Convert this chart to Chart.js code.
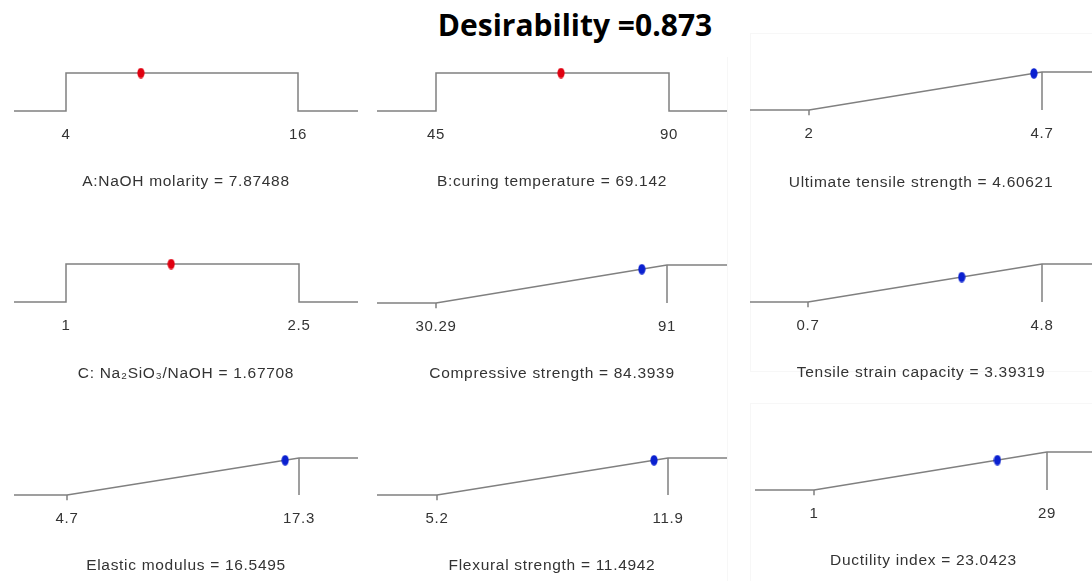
<!DOCTYPE html>
<html>
<head>
<meta charset="utf-8">
<script src="https://cdn.jsdelivr.net/npm/chart.js@4.4.1/dist/chart.umd.min.js"></script>
<style>
  body { margin: 0; background: #fff; width: 1092px; height: 581px; overflow: hidden; position: relative; }
  #title { position: absolute; left: 0; width: 1150px; top: 10px; text-align: center;
           font: 700 30px/30px "Open Sans", sans-serif; color: #000; }
  .panel { position: absolute; }
  .frame { position: absolute; border: 1px solid #f7f7f7; }
</style>
</head>
<body>
<div class="frame" style="left:376px;top:57px;width:351px;height:530px;border-left:none;border-top:none;"></div>
<div class="frame" style="left:750px;top:33px;width:360px;height:337px;border-right:none;"></div>
<div class="frame" style="left:750px;top:403px;width:360px;height:200px;border-right:none;"></div>
<div id="title"></div>
<div id="panels"></div>
<script>
// Desirability ramps (Design-Expert style optimisation plot)
const desirability = 0.873;
const panelNames = [
  "A:NaOH molarity", "B:curing temperature", "Ultimate tensile strength",
  "C: Na\u2082SiO\u2083/NaOH", "Compressive strength", "Tensile strain capacity",
  "Elastic modulus", "Flexural strength", "Ductility index",
];
const panelKinds = ["range", "range", "max", "range", "max", "max", "max", "max", "max"];
const lowLimits = [4, 45, 2, 1, 30.29, 0.7, 4.7, 5.2, 1];
const highLimits = [16, 90, 4.7, 2.5, 91, 4.8, 17.3, 11.9, 29];
const currentValues = [7.87488, 69.142, 4.60621, 1.67708, 84.3939, 3.39319, 16.5495, 11.4942, 23.0423];

// layout: [left, right, lowX, highX, topY, baseY, labelY] in page pixels
const boxes = [
  [14, 358, 66, 298, 73, 111, 181],
  [377, 727, 436, 669, 73, 111, 181],
  [750, 1092, 809, 1042, 72, 110, 182],
  [14, 358, 66, 299, 264, 302, 373],
  [377, 727, 436, 667, 265, 303, 373],
  [750, 1092, 808, 1042, 264, 302, 372],
  [14, 358, 67, 299, 458, 495, 565],
  [377, 727, 437, 668, 458, 495, 565],
  [755, 1092, 814, 1047, 452, 490, 560],
];

const PAD_TOP = 10;
const LINE = "#808080";
const FONT = "'Liberation Sans', Arial, sans-serif";

document.getElementById("title").textContent = "Desirability =" + desirability.toFixed(3);

function dotImage(color) {
  const c = document.createElement("canvas");
  c.width = 8;
  c.height = 11;
  const g = c.getContext("2d");
  g.fillStyle = color;
  g.beginPath();
  g.ellipse(4, 5.5, 3.6, 5.2, 0, 0, Math.PI * 2);
  g.fill();
  return c;
}
const redDot = dotImage("#e00010");
const blueDot = dotImage("#0a20d0");

// the scanned labels look slightly stretched, widen them a bit
const spacingPlugin = {
  id: "spacing",
  beforeDraw(chart) {
    chart.ctx.letterSpacing = "0.7px";
  },
};

const host = document.getElementById("panels");

panelNames.forEach((name, i) => {
  const [left, right, lowX, highX, topY, baseY, labelY] = boxes[i];
  const lo = lowLimits[i];
  const hi = highLimits[i];
  const v = currentValues[i];
  const ppu = (highX - lowX) / (hi - lo);
  const xMin = lo - (lowX - left) / ppu;
  const xMax = hi + (right - highX) / ppu;

  const boxTop = topY - PAD_TOP;
  const boxH = labelY + 10 - boxTop;
  const axisH = boxH - PAD_TOP - (baseY - topY);

  const div = document.createElement("div");
  div.className = "panel";
  div.style.left = left + "px";
  div.style.top = boxTop + "px";
  div.style.width = right - left + "px";
  div.style.height = boxH + "px";
  const canvas = document.createElement("canvas");
  div.appendChild(canvas);
  host.appendChild(div);

  const isRange = panelKinds[i] === "range";
  const datasets = [];
  if (isRange) {
    datasets.push({
      data: [
        { x: xMin, y: 0 }, { x: lo, y: 0 }, { x: lo, y: 1 },
        { x: hi, y: 1 }, { x: hi, y: 0 }, { x: xMax, y: 0 },
      ],
    });
  } else {
    datasets.push({
      data: [{ x: xMin, y: 0 }, { x: lo, y: 0 }, { x: hi, y: 1 }, { x: xMax, y: 1 }],
    });
    datasets.push({ data: [{ x: hi, y: 1 }, { x: hi, y: 0 }] });
    datasets.push({ data: [{ x: lo, y: 0 }, { x: lo, y: -0.14 }] });
  }
  datasets.forEach((d) => {
    Object.assign(d, {
      showLine: true,
      borderColor: LINE,
      borderWidth: 1.5,
      pointRadius: 0,
      tension: 0,
      order: 2,
    });
  });
  // current setting
  datasets.push({
    data: [{ x: v, y: isRange ? 1 : (v - lo) / (hi - lo) }],
    pointStyle: isRange ? redDot : blueDot,
    pointRadius: 5,
    showLine: false,
    order: 1,
  });

  new Chart(canvas, {
    type: "scatter",
    data: { datasets },
    options: {
      responsive: true,
      maintainAspectRatio: false,
      animation: false,
      clip: false,
      layout: { autoPadding: false, padding: { top: PAD_TOP, left: 0, right: 0, bottom: 0 } },
      plugins: { legend: { display: false }, tooltip: { enabled: false } },
      scales: {
        x: {
          type: "linear",
          min: xMin,
          max: xMax,
          grid: { display: false, drawTicks: false },
          border: { display: false },
          afterBuildTicks: (s) => {
            s.ticks = [{ value: lo }, { value: hi }];
          },
          afterFit: (s) => {
            s.height = axisH;
          },
          ticks: {
            padding: 15,
            autoSkip: false,
            maxRotation: 0,
            color: "#333",
            font: { family: FONT, size: 15 },
            callback: (val) => String(val),
          },
          title: {
            display: true,
            text: name + " = " + v,
            color: "#333",
            padding: 0,
            font: { family: FONT, size: 15.5 },
          },
        },
        y: { display: false, min: 0, max: 1 },
      },
    },
    plugins: [spacingPlugin],
  });
});
</script>
</body>
</html>
